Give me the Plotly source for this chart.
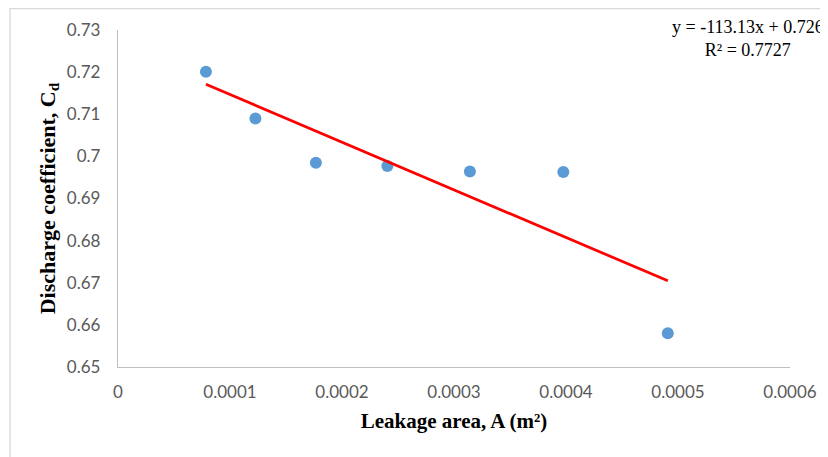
import plotly.graph_objects as go

area = [0.0000785, 0.0001227, 0.0001767, 0.0002405, 0.0003142, 0.0003976, 0.0004909]
cd = [0.7201, 0.7090, 0.6985, 0.6977, 0.6964, 0.6963, 0.6580]
slope = -113.13
intercept = 0.726
r2 = 0.7727
x_ticks = [0, 0.0001, 0.0002, 0.0003, 0.0004, 0.0005, 0.0006]
x_tick_labels = ["0", "0.0001", "0.0002", "0.0003", "0.0004", "0.0005", "0.0006"]
y_ticks = [0.65, 0.66, 0.67, 0.68, 0.69, 0.70, 0.71, 0.72, 0.73]
y_tick_labels = ["0.65", "0.66", "0.67", "0.68", "0.69", "0.7", "0.71", "0.72", "0.73"]

# page body has an 8px margin; figure sized to fit the 828x457 window
OFF = 8
W, H = 828 - OFF, 457 - OFF
ml, mt = 118 - OFF, 30 - OFF
mr = W - (790 - OFF)
mb = H - (367 - OFF)
pw, ph = W - ml - mr, H - mt - mb

trend_x = [min(area), max(area)]
trend_y = [slope * v + intercept for v in trend_x]

fig = go.Figure()
fig.add_trace(go.Scatter(x=area, y=cd, mode="markers",
                         marker=dict(color="#5B9BD5", size=12), showlegend=False))
fig.add_trace(go.Scatter(x=trend_x, y=trend_y, mode="lines",
                         line=dict(color="#FF0000", width=2.75), showlegend=False))

tick_font = dict(family="Lato, Open Sans, sans-serif", size=17, color="#595959")
serif = "Liberation Serif, Times New Roman, serif"

fig.update_layout(
    width=W, height=H,
    margin=dict(l=ml, r=mr, t=mt, b=mb),
    paper_bgcolor="white", plot_bgcolor="white",
    xaxis=dict(range=[0, 0.0006], tickvals=x_ticks, ticktext=x_tick_labels,
               showgrid=False, zeroline=False, showline=True, linecolor="#BFBFBF",
               linewidth=1.3, ticks="", tickfont=tick_font, ticklabelstandoff=9,
               title=dict(text="<b>Leakage area, A (m²)</b>",
                          font=dict(family=serif, size=21, color="black"), standoff=12)),
    yaxis=dict(range=[0.65, 0.73], tickvals=y_ticks, ticktext=y_tick_labels,
               showgrid=False, zeroline=False, showline=True, linecolor="#BFBFBF",
               linewidth=1.3, ticks="", tickfont=tick_font, ticklabelstandoff=13,
               title=dict(text="<b>Discharge coefficient, C<sub>d</sub></b>",
                          font=dict(family=serif, size=22, color="black"), standoff=5)),
    shapes=[dict(type="rect", xref="paper", yref="paper",
                 x0=(10 - OFF - ml) / pw, x1=(W + 20 - ml) / pw,
                 y0=-(mb + 20) / ph, y1=1 + (mt - 0.7) / ph,
                 line=dict(color="#D9D9D9", width=1.3), layer="below")],
    annotations=[dict(xref="paper", yref="paper",
                      x=(748 - OFF - ml) / pw, y=1 + (mt - 7) / ph,
                      xanchor="center", yanchor="top", showarrow=False, align="center",
                      text=f"y = {slope}x + {intercept}<br>R² = {r2}",
                      font=dict(family=serif, size=18, color="black"))],
)

fig.write_html("out.html")
